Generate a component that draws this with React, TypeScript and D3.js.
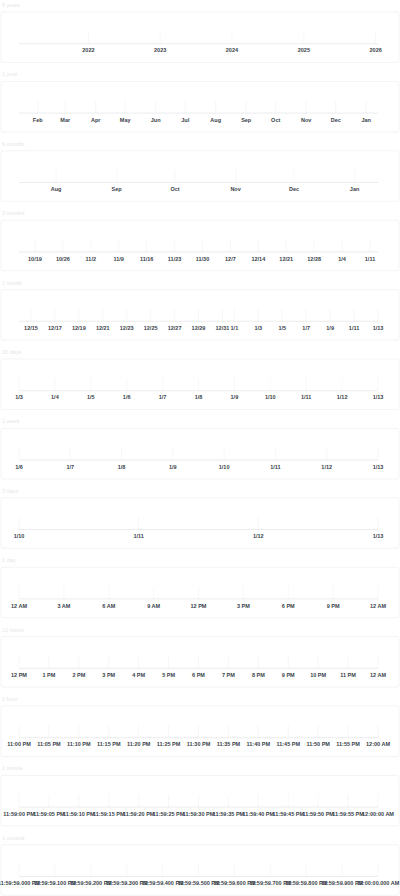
import React from "react";
import * as d3 from "d3";

const END = new Date(2026, 0, 13, 0, 0, 0, 0);

const panelTitles = ["5 years", "1 year", "6 months", "3 months", "1 month", "10 days", "1 week", "3 days", "1 day", "12 hours", "1 hour", "1 minute", "1 second"];
const panelStarts = [
  new Date(2021, 0, 13),
  new Date(2025, 0, 13),
  new Date(2025, 6, 13),
  new Date(2025, 9, 15),
  new Date(2025, 11, 14),
  new Date(2026, 0, 3),
  new Date(2026, 0, 6),
  new Date(2026, 0, 10),
  new Date(2026, 0, 12, 0, 0, 0, 0),
  new Date(2026, 0, 12, 12, 0, 0, 0),
  new Date(2026, 0, 12, 23, 0, 0, 0),
  new Date(2026, 0, 12, 23, 59, 0, 0),
  new Date(2026, 0, 12, 23, 59, 59, 0),
];
const panelIntervals = [
  d3.timeYear,
  d3.timeMonth,
  d3.timeMonth,
  d3.timeWeek,
  d3.timeDay.every(2),
  d3.timeDay,
  d3.timeDay,
  d3.timeDay,
  d3.timeHour.every(3),
  d3.timeHour,
  d3.timeMinute.every(5),
  d3.timeSecond.every(5),
  d3.timeMillisecond.every(100),
];
const panelFormats = ["%Y", "%b", "%b", "%-m/%-d", "%-m/%-d", "%-m/%-d", "%-m/%-d", "%-m/%-d", "%-I %p", "%-I %p", "%-I:%M %p", "%-I:%M:%S %p", "%-I:%M:%S.%L %p"];

const W = 400;
const H = 896;
const PITCH = 69.4;
const TOP0 = 12;
const BOX_H = 50.5;
const X0 = 19;
const X1 = 378;

export default function App() {
  return (
    <svg width={W} height={H} style={{ position: "absolute", left: 0, top: 0, background: "#fff" }}>
      {panelTitles.map((title, i) => {
        const top = TOP0 + i * PITCH;
        const x = d3.scaleTime().domain([panelStarts[i], END]).range([X0, X1]);
        const ticks = x.ticks(panelIntervals[i] as any);
        const fmt = d3.timeFormat(panelFormats[i]);
        const axisY = top + 31.7;
        return (
          <g key={i}>
            <text x={2} y={top - 5} fontSize={5.5} fill="#e6e6e6" fontFamily="Liberation Sans, Arial, sans-serif">{title}</text>
            <rect x={1} y={top} width={398} height={BOX_H} rx={2} fill="#fff" stroke="#efefef" strokeWidth={0.7} />
            {ticks.map((t, j) => (
              <line key={"g" + j} x1={x(t)} x2={x(t)} y1={axisY - 12.7} y2={axisY} stroke="#f1f1f3" strokeWidth={0.6} />
            ))}
            <line x1={X0} x2={X1} y1={axisY} y2={axisY} stroke="#e2e4e8" strokeWidth={0.7} />
            {ticks.map((t, j) => (
              <text key={"t" + j} x={x(t)} y={axisY + 8.6} fontSize={5.5} fontWeight={600} textAnchor="middle" fill="#3a3f4b" fontFamily="Liberation Sans, Arial, sans-serif">
                {fmt(t)}
              </text>
            ))}
          </g>
        );
      })}
    </svg>
  );
}
